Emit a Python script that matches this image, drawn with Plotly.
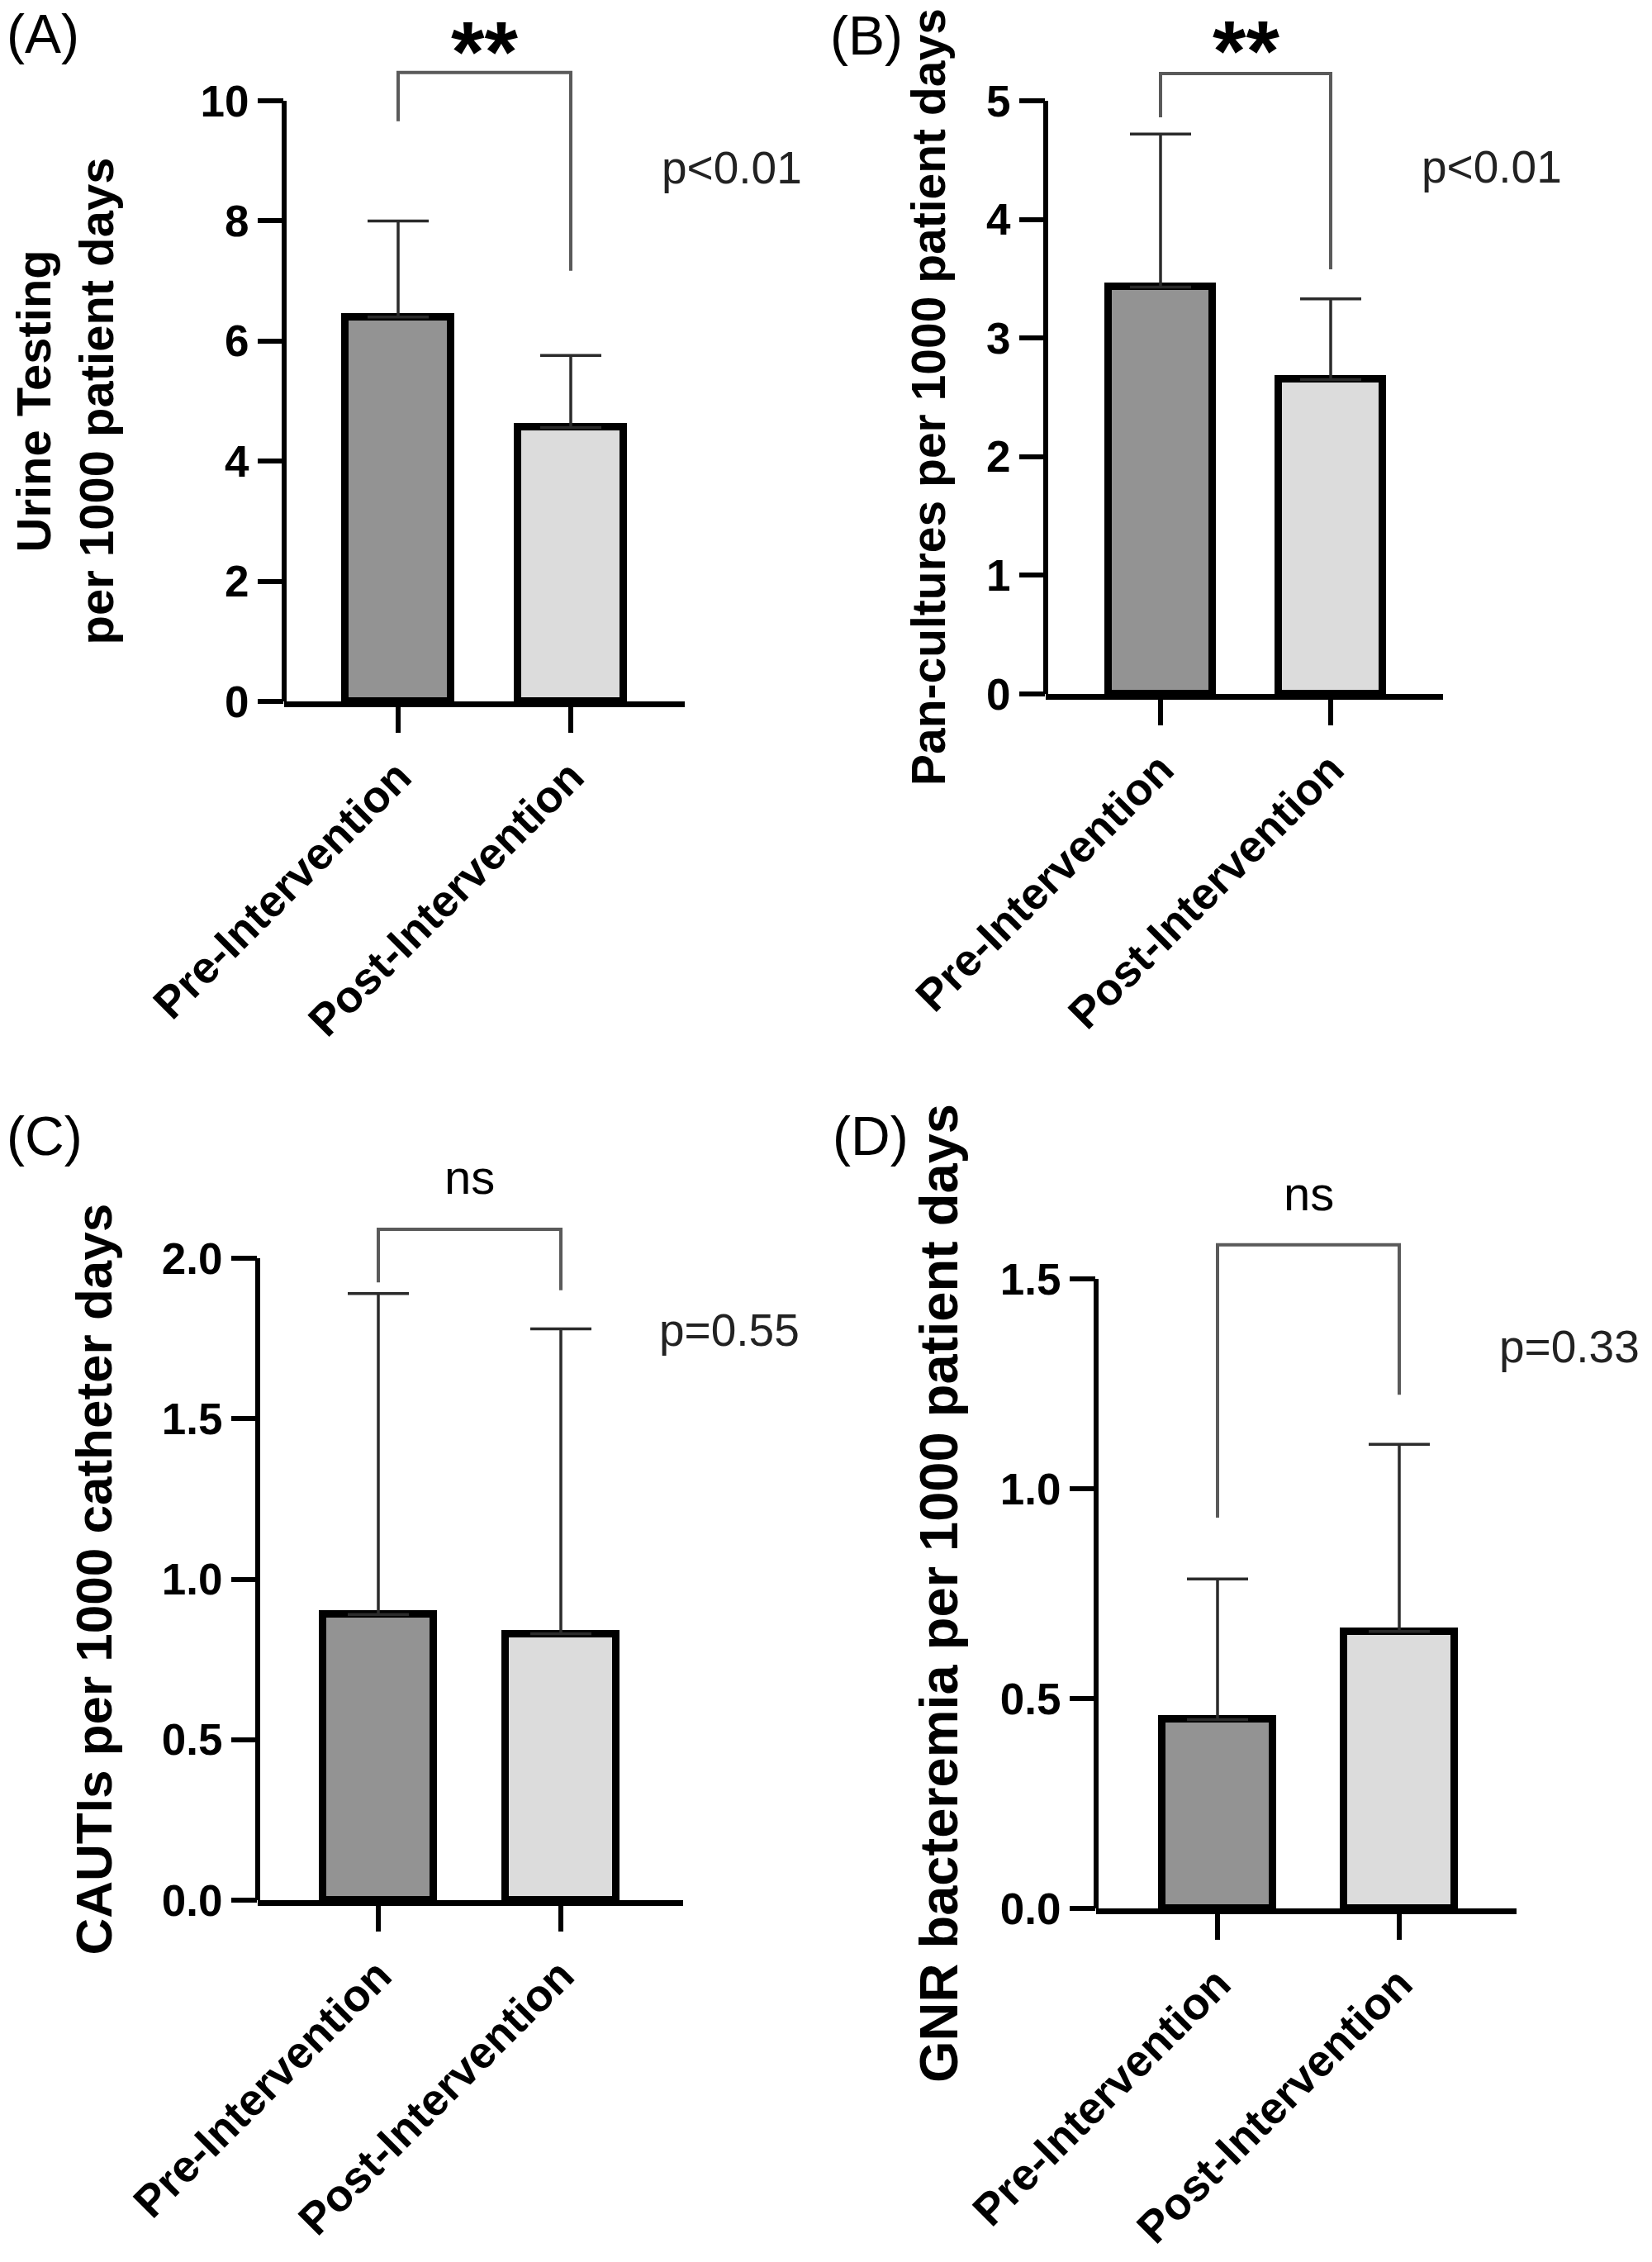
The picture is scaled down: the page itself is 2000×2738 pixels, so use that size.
import plotly.graph_objects as go

W, H = 2000, 2738

# ---------------- data ----------------
categories = ["Pre-Intervention", "Post-Intervention"]

urine_mean = [6.40, 4.56]
urine_upper = [8.00, 5.76]
pan_mean = [3.43, 2.65]
pan_upper = [4.72, 3.33]
cauti_mean = [0.89, 0.83]
cauti_upper = [1.89, 1.78]
gnr_mean = [0.45, 0.66]
gnr_upper = [0.785, 1.106]

ticks_A = [0, 2, 4, 6, 8, 10]
ticks_B = [0, 1, 2, 3, 4, 5]
ticks_C = [0.0, 0.5, 1.0, 1.5, 2.0]
ticks_D = [0.0, 0.5, 1.0, 1.5]
ticklabels_C = ["0.0", "0.5", "1.0", "1.5", "2.0"]
ticklabels_D = ["0.0", "0.5", "1.0", "1.5"]

# axis titles (each entry: list of lines)
titles = [["Urine Testing", "per 1000 patient days"],
          ["Pan-cultures per 1000 patient days"],
          ["CAUTIs per 1000 catheter days"],
          ["GNR bacteremia per 1000 patient days"]]
panel_labels = ["(A)", "(B)", "(C)", "(D)"]
sig_labels = ["**", "**", "ns", "ns"]
p_labels = ["p<0.01", "p<0.01", "p=0.55", "p=0.33"]

# bracket: (left leg bottom, top, right leg bottom)
brackets = [(9.66, 10.47, 7.17), (4.86, 5.23, 3.58), (1.925, 2.09, 1.90), (0.931, 1.581, 1.224)]
# significance label position (value, vertical anchor)
sig_y = [(11.64, "top"), (5.835, "top"), (2.254, "middle"), (1.703, "middle")]
p_y = [8.89, 4.44, 1.776, 1.339]

# ---------------- layout geometry (pixels) ----------------
geom = [
    dict(yax=344, xend=829, c0=482, c1=691, y0=849, ytp=122, ytop=10, dtop=0,
         ttl_x=[40, 116], ttl_size=58, lab=(6, 41), px=886),
    dict(yax=1266, xend=1747, c0=1405, c1=1611, y0=840, ytp=122, ytop=5, dtop=0,
         ttl_x=[1124], ttl_size=57, lab=(1003, 43), px=1806),
    dict(yax=312, xend=827, c0=458, c1=679, y0=2300, ytp=1523, ytop=2.0, dtop=1330,
         ttl_x=[113], ttl_size=62, lab=(6, 1375), px=883),
    dict(yax=1327, xend=1836, c0=1474, c1=1694, y0=2310, ytp=1548, ytop=1.5, dtop=1330,
         ttl_x=[1137], ttl_size=65, lab=(1006, 1375), px=1900),
]

means = [urine_mean, pan_mean, cauti_mean, gnr_mean]
uppers = [urine_upper, pan_upper, cauti_upper, gnr_upper]
tickv = [ticks_A, ticks_B, ticks_C, ticks_D]
tickt = [[str(t) for t in ticks_A], [str(t) for t in ticks_B], ticklabels_C, ticklabels_D]

colors = ["#939393", "#dcdcdc"]
FONT = "Liberation Sans, Arial, sans-serif"

fig = go.Figure()
shapes = []
annotations = []
xpos = list(range(len(categories)))

for i in range(4):
    g = geom[i]
    n = "" if i == 0 else str(i + 1)
    xa, ya = "x" + n, "y" + n
    ppu = (g["y0"] - g["ytp"]) / g["ytop"]
    rtop = (g["y0"] - g["dtop"]) / ppu
    sp = g["c1"] - g["c0"]
    xr = [-(g["c0"] - g["yax"]) / sp, 1 + (g["xend"] - g["c1"]) / sp]

    fig.add_trace(go.Bar(
        x=xpos, y=means[i], xaxis=xa, yaxis=ya,
        marker=dict(color=colors, line=dict(color="black", width=9)),
        width=0.61,
        error_y=dict(type="data", symmetric=False,
                     array=[u - m for u, m in zip(uppers[i], means[i])],
                     arrayminus=[0] * len(means[i]),
                     color="#2b2b2b", thickness=3.5, width=37),
        showlegend=False, hoverinfo="skip",
    ))

    xkey = "xaxis" + n
    ykey = "yaxis" + n
    fig.update_layout(**{
        xkey: dict(domain=[g["yax"] / W, g["xend"] / W], range=xr, anchor=ya,
                   tickvals=xpos, ticktext=categories, tickangle=-45,
                   showline=True, linewidth=6.5, linecolor="black",
                   ticks="outside", ticklen=31, tickwidth=6, tickcolor="black",
                   showgrid=False, zeroline=False, fixedrange=True, automargin=False,
                   tickfont=dict(family=FONT, size=54, color="black", weight="bold")),
        ykey: dict(domain=[1 - g["y0"] / H, 1 - g["dtop"] / H], range=[0, rtop], anchor=xa,
                   tickvals=tickv[i], ticktext=tickt[i],
                   showline=False, ticks="outside", ticklen=31, tickwidth=6, tickcolor="black",
                   showgrid=False, zeroline=False, fixedrange=True, automargin=False,
                   tickfont=dict(family=FONT, size=53, color="black", weight="bold")),
    })

    # y axis line from 0 to top tick
    shapes.append(dict(type="line", xref=xa + " domain", x0=0, x1=0, yref=ya,
                       y0=0, y1=g["ytop"], line=dict(color="black", width=6)))
    # significance bracket
    bl, bt, br = brackets[i]
    shapes.append(dict(type="path", xref=xa, yref=ya,
                       path=f"M {xpos[0]},{bl} L {xpos[0]},{bt} L {xpos[1]},{bt} L {xpos[1]},{br}",
                       line=dict(color="#5a5a5a", width=4)))

    bold_sig = sig_labels[i] == "**"
    sy, sanchor = sig_y[i]
    annotations.append(dict(xref=xa, yref=ya, x=0.5, y=sy, text=sig_labels[i],
                            showarrow=False, xanchor="center", yanchor=sanchor,
                            font=dict(family=FONT, size=104 if bold_sig else 58, color="black",
                                      weight="bold" if bold_sig else "normal")))
    annotations.append(dict(xref="paper", yref=ya, x=g["px"] / W, y=p_y[i], text=p_labels[i],
                            showarrow=False, xanchor="center", yanchor="middle",
                            font=dict(family=FONT, size=55, color="#222")))
    for line, tx in zip(titles[i], g["ttl_x"]):
        annotations.append(dict(xref="paper", yref=ya, x=tx / W, y=g["ytop"] / 2,
                                text=line, textangle=-90, showarrow=False,
                                xanchor="center", yanchor="middle",
                                font=dict(family=FONT, size=g["ttl_size"], color="black",
                                          weight="bold")))
    annotations.append(dict(xref="paper", yref="paper", x=g["lab"][0] / W, y=1 - g["lab"][1] / H,
                            text=panel_labels[i], showarrow=False, xanchor="left", yanchor="middle",
                            font=dict(family=FONT, size=66, color="black")))

fig.update_layout(width=W, height=H, margin=dict(l=0, r=0, t=0, b=0, autoexpand=False),
                  paper_bgcolor="white", plot_bgcolor="white",
                  shapes=shapes, annotations=annotations, bargap=0)

fig.write_html("out.html")
